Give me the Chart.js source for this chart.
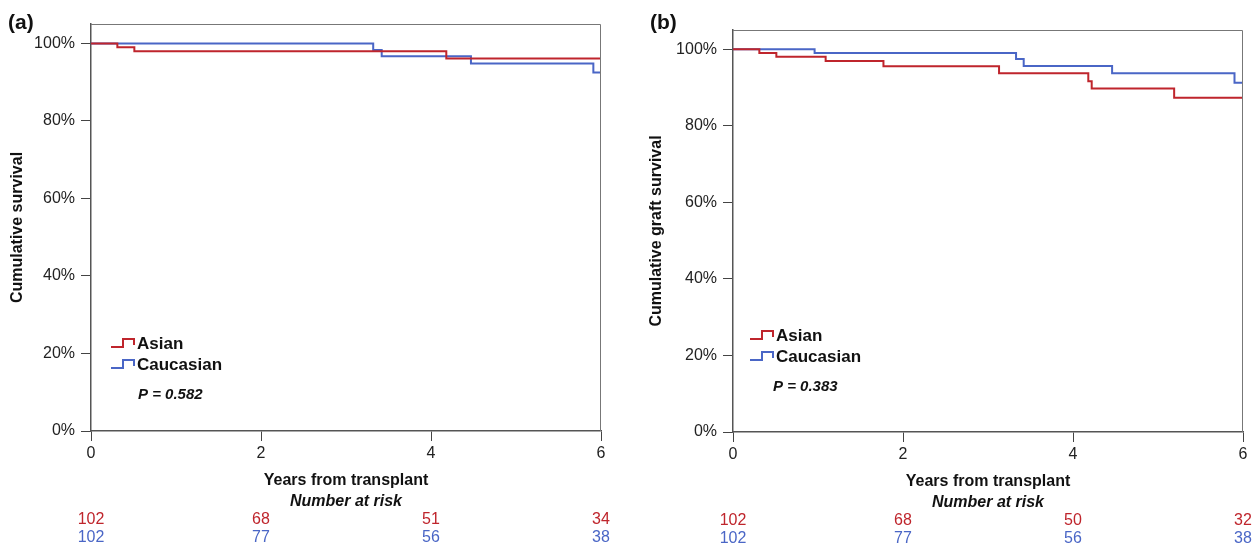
<!DOCTYPE html>
<html>
<head>
<meta charset="utf-8">
<script src="https://cdn.jsdelivr.net/npm/chart.js@4/dist/chart.umd.min.js"></script>
<style>
  body { margin: 0; background: #fff; overflow: hidden; }
  canvas { display: block; float: left; }
</style>
</head>
<body>
<canvas id="panelA" width="629" height="547"></canvas>
<canvas id="panelB" width="629" height="547"></canvas>
<script>
// panel (a) - overall survival
const asianYearsA = [0, 0.31, 0.51, 4.18, 6];
const asianSurvA = [100, 99.0, 98.0, 96.1, 96.1];
const caucYearsA = [0, 3.32, 3.42, 4.47, 5.91, 6];
const caucSurvA = [100, 98.3, 96.7, 94.8, 92.5, 92.5];

// panel (b) - graft survival
const asianYearsB = [0, 0.31, 0.51, 1.09, 1.77, 3.13, 4.18, 4.22, 5.19, 6];
const asianSurvB = [100, 99.0, 98.0, 96.9, 95.5, 93.7, 91.6, 89.7, 87.3, 87.3];
const caucYearsB = [0, 0.96, 3.33, 3.42, 4.46, 5.90, 6];
const caucSurvB = [100, 99.0, 97.4, 95.6, 93.7, 91.2, 91.2];

// number at risk table
const riskYears = [0, 2, 4, 6];
const asianRiskA = [102, 68, 51, 34];
const caucRiskA = [102, 77, 56, 38];
const asianRiskB = [102, 68, 50, 32];
const caucRiskB = [102, 77, 56, 38];

const seriesNames = ['Asian', 'Caucasian'];
const RED = '#bf252c';
const BLUE = '#4a66c6';
const FONT = '"Liberation Sans", Arial, sans-serif';

function toPoints(xs, ys) {
    return xs.map((x, i) => ({ x: x, y: ys[i] }));
}

// draws the frame, legend, p value and risk table
const kmExtras = {
    id: 'kmExtras',
    afterDraw(chart, args, o) {
        const ctx = chart.ctx;
        const a = chart.chartArea;
        const xs = chart.scales.x;
        ctx.save();

        // top / right frame
        ctx.strokeStyle = '#777';
        ctx.lineWidth = 1;
        ctx.beginPath();
        ctx.moveTo(a.left, a.top + 0.5);
        ctx.lineTo(a.right - 0.5, a.top + 0.5);
        ctx.lineTo(a.right - 0.5, a.bottom);
        ctx.stroke();

        // panel letter
        ctx.fillStyle = '#111';
        ctx.font = 'bold 21px ' + FONT;
        ctx.textBaseline = 'middle';
        ctx.textAlign = 'left';
        ctx.fillText(o.letter, o.letterX, 23);

        // legend with step icons
        ctx.font = 'bold 17px ' + FONT;
        [RED, BLUE].forEach((col, i) => {
            const x0 = a.left + o.legX;
            const y = o.legY + i * 21;
            ctx.strokeStyle = col;
            ctx.lineWidth = 2;
            ctx.beginPath();
            ctx.moveTo(x0, y + 4);
            ctx.lineTo(x0 + 12, y + 4);
            ctx.lineTo(x0 + 12, y - 4);
            ctx.lineTo(x0 + 23, y - 4);
            ctx.lineTo(x0 + 23, y + 2);
            ctx.stroke();
            ctx.fillStyle = '#111';
            ctx.fillText(seriesNames[i], x0 + 26, y + 1);
        });

        // p value
        ctx.font = 'italic bold 15px ' + FONT;
        ctx.fillText(o.pText, a.left + o.pX, o.legY + 52);

        // number at risk
        ctx.textAlign = 'center';
        ctx.font = 'italic bold 16px ' + FONT;
        ctx.fillText('Number at risk', (a.left + a.right) / 2, a.bottom + 71);
        ctx.font = '16px ' + FONT;
        riskYears.forEach((yr, i) => {
            const px = xs.getPixelForValue(yr);
            ctx.fillStyle = RED;
            ctx.fillText(String(o.riskAsian[i]), px, a.bottom + 89);
            ctx.fillStyle = BLUE;
            ctx.fillText(String(o.riskCauc[i]), px, a.bottom + 107);
        });
        ctx.restore();
    }
};

function makeChart(id, asian, cauc, yTitle, yAxisW, yTitlePad, pad, extras) {
    return new Chart(document.getElementById(id), {
        type: 'line',
        data: {
            datasets: [
                { label: seriesNames[0], data: asian, borderColor: RED, borderWidth: 2,
                  stepped: true, pointRadius: 0, fill: false },
                { label: seriesNames[1], data: cauc, borderColor: BLUE, borderWidth: 2,
                  stepped: true, pointRadius: 0, fill: false }
            ]
        },
        options: {
            responsive: false,
            animation: false,
            layout: { padding: pad },
            plugins: {
                legend: { display: false },
                tooltip: { enabled: false },
                kmExtras: extras
            },
            scales: {
                x: {
                    type: 'linear',
                    min: 0,
                    max: 6,
                    border: { color: '#555', width: 1.5 },
                    grid: { drawOnChartArea: false, drawTicks: true, tickLength: 10, color: '#444' },
                    ticks: { stepSize: 2, padding: 3, color: '#222', font: { family: FONT, size: 16 } },
                    title: {
                        display: true,
                        text: 'Years from transplant',
                        color: '#111',
                        font: { family: FONT, size: 16, weight: 'bold' },
                        padding: { top: 0, bottom: 1 }
                    },
                    afterFit: s => { s.height = 60; }
                },
                y: {
                    min: 0,
                    max: 105,
                    border: { color: '#555', width: 1.5 },
                    grid: { drawOnChartArea: false, drawTicks: true, tickLength: 10, color: '#444' },
                    ticks: {
                        stepSize: 20,
                        padding: 6,
                        color: '#222',
                        font: { family: FONT, size: 16 },
                        callback: v => v + '%'
                    },
                    afterBuildTicks: s => { s.ticks = s.ticks.filter(t => t.value <= 100); },
                    title: {
                        display: true,
                        text: yTitle,
                        color: '#111',
                        font: { family: FONT, size: 16, weight: 'bold' },
                        padding: { top: yTitlePad, bottom: 0 }
                    },
                    afterFit: s => { s.width = yAxisW; }
                }
            }
        },
        plugins: [kmExtras]
    });
}

makeChart('panelA', toPoints(asianYearsA, asianSurvA), toPoints(caucYearsA, caucSurvA),
    'Cumulative survival', 91, 8, { left: 0, right: 28, top: 24, bottom: 56 },
    { letter: '(a)', letterX: 8, legX: 20, legY: 343, pX: 47, pText: 'P = 0.582',
      riskAsian: asianRiskA, riskCauc: caucRiskA });

makeChart('panelB', toPoints(asianYearsB, asianSurvB), toPoints(caucYearsB, caucSurvB),
    'Cumulative graft survival', 104, 18, { left: 0, right: 15, top: 30, bottom: 55 },
    { letter: '(b)', letterX: 21, legX: 17, legY: 335, pX: 40, pText: 'P = 0.383',
      riskAsian: asianRiskB, riskCauc: caucRiskB });
</script>
</body>
</html>
